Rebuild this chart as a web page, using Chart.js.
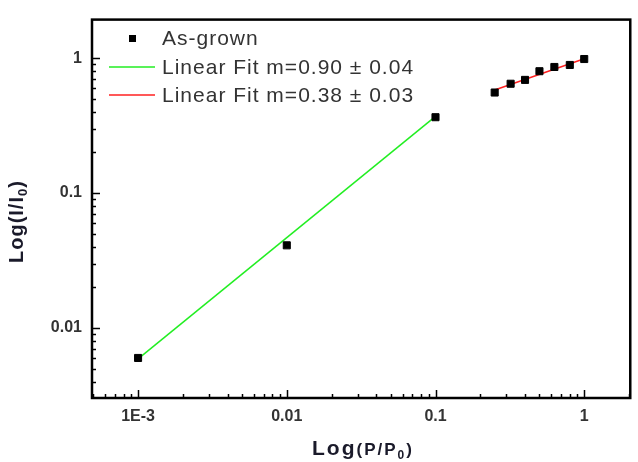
<!DOCTYPE html>
<html>
<head>
<meta charset="utf-8">
<script src="https://cdn.jsdelivr.net/npm/chart.js@4.4.1/dist/chart.umd.min.js"></script>
<style>
  html, body { margin: 0; padding: 0; background: #fff; }
  #wrap { width: 638px; height: 462px; position: relative; }
</style>
</head>
<body>
<div id="wrap"><canvas id="myChart" width="638" height="462"></canvas></div>
<script>
// Data
const pressure = [0.001, 0.01, 0.1, 0.25, 0.32, 0.4, 0.5, 0.63, 0.8, 1.0];
const intensity = [0.0060, 0.041, 0.365, 0.556, 0.646, 0.69, 0.80, 0.86, 0.89, 0.985];

const greenFitX = [0.001, 0.1];
const greenFitY = [0.0059, 0.37];
const redFitX = [0.25, 1.0];
const redFitY = [0.58, 0.99];

const xTickValues = [0.001, 0.01, 0.1, 1];
const xTickLabels = ['1E-3', '0.01', '0.1', '1'];
const yTickValues = [0.01, 0.1, 1];
const yTickLabels = ['0.01', '0.1', '1'];

const seriesLabels = ['As-grown', 'Linear Fit m=0.90 \u00b1 0.04', 'Linear Fit m=0.38 \u00b1 0.03'];

const FONT = "'Liberation Sans', Arial, sans-serif";

function toPoints(xs, ys) {
    return xs.map((x, i) => ({ x: x, y: ys[i] }));
}

// minor + major tick values for a log axis
function logTicks(min, max) {
    const out = [];
    for (let e = Math.floor(Math.log10(min)); e <= Math.ceil(Math.log10(max)); e++) {
        for (let m = 1; m <= 9; m++) {
            const v = m * Math.pow(10, e);
            if (v >= min && v <= max) out.push({ value: v, major: m === 1 });
        }
    }
    return out;
}

function labelFor(values, labels, v) {
    const i = values.findIndex(t => Math.abs(Math.log10(t) - Math.log10(v)) < 1e-6);
    return i >= 0 ? labels[i] : '';
}

// frame, inward ticks, axis titles, legend
const decorPlugin = {
    id: 'decor',
    afterDraw(chart) {
        const ctx = chart.ctx;
        const a = chart.chartArea;
        const xs = chart.scales.x;
        const ys = chart.scales.y;
        ctx.save();

        // ticks
        ctx.strokeStyle = '#000';
        ctx.lineWidth = 1.5;
        xs.ticks.forEach(t => {
            const px = Math.round(xs.getPixelForValue(t.value)) + 0.5;
            const len = t.major ? 8 : 4;
            ctx.beginPath();
            ctx.moveTo(px, a.bottom);
            ctx.lineTo(px, a.bottom - len);
            ctx.stroke();
        });
        ys.ticks.forEach(t => {
            const py = Math.round(ys.getPixelForValue(t.value)) + 0.5;
            const len = t.major ? 8 : 4;
            ctx.beginPath();
            ctx.moveTo(a.left, py);
            ctx.lineTo(a.left + len, py);
            ctx.stroke();
        });

        // frame
        ctx.lineWidth = 2.5;
        ctx.strokeRect(a.left, a.top, a.right - a.left, a.bottom - a.top);

        // axis titles
        ctx.fillStyle = '#1a1a2a';
        ctx.textBaseline = 'alphabetic';
        ctx.textAlign = 'left';
        ctx.letterSpacing = '2px';
        // x title: Log(P/P0)
        let x = 312, y = 455;
        ctx.font = 'bold 21px ' + FONT;
        ctx.fillText('Log', x, y);
        x += ctx.measureText('Log').width;
        ctx.font = 'bold 17px ' + FONT;
        ctx.fillText('(P/P', x, y);
        x += ctx.measureText('(P/P').width;
        ctx.font = 'bold 12px ' + FONT;
        ctx.fillText('0', x, y + 4);
        x += ctx.measureText('0').width;
        ctx.font = 'bold 17px ' + FONT;
        ctx.fillText(')', x, y);

        // y title: Log(I/I0), rotated
        ctx.letterSpacing = '1px';
        ctx.save();
        ctx.translate(23, 263);
        ctx.rotate(-Math.PI / 2);
        let t = 0;
        ctx.font = 'bold 20px ' + FONT;
        ctx.fillText('Log(I/I', t, 0);
        t += ctx.measureText('Log(I/I').width;
        ctx.font = 'bold 13px ' + FONT;
        ctx.fillText('0', t, 4);
        t += ctx.measureText('0').width;
        ctx.font = 'bold 20px ' + FONT;
        ctx.fillText(')', t, 0);
        ctx.restore();

        // legend
        ctx.font = '21px ' + FONT;
        ctx.letterSpacing = '1px';
        ctx.textBaseline = 'middle';
        const ds = chart.data.datasets;
        ctx.fillStyle = '#000';
        ctx.fillRect(129, 35, 7, 7);
        ctx.fillStyle = '#333';
        ctx.fillText(ds[0].label, 162, 39);
        [[1, 67], [2, 95]].forEach(([i, ly]) => {
            ctx.strokeStyle = ds[i].borderColor;
            ctx.lineWidth = 1.5;
            ctx.beginPath();
            ctx.moveTo(109, ly);
            ctx.lineTo(155, ly);
            ctx.stroke();
            ctx.fillText(ds[i].label, 162, ly + 1);
        });

        ctx.restore();
    }
};

const ctx = document.getElementById('myChart').getContext('2d');
const myChart = new Chart(ctx, {
    type: 'scatter',
    data: {
        datasets: [
            {
                label: seriesLabels[0],
                data: toPoints(pressure, intensity),
                pointStyle: 'rect',
                pointRadius: 5,
                backgroundColor: '#000',
                borderColor: '#000',
                borderWidth: 1,
                order: 0
            },
            {
                label: seriesLabels[1],
                data: toPoints(greenFitX, greenFitY),
                showLine: true,
                pointRadius: 0,
                borderColor: '#22ee22',
                borderWidth: 1.5,
                order: 1
            },
            {
                label: seriesLabels[2],
                data: toPoints(redFitX, redFitY),
                showLine: true,
                pointRadius: 0,
                borderColor: '#ff2020',
                borderWidth: 1.5,
                order: 1
            }
        ]
    },
    options: {
        responsive: false,
        animation: false,
        layout: { padding: { left: 0, top: 14, right: 6, bottom: 0 } },
        plugins: {
            legend: { display: false },
            tooltip: { enabled: false }
        },
        scales: {
            x: {
                type: 'logarithmic',
                min: 0.00049,
                max: 2.04,
                afterBuildTicks: s => { s.ticks = logTicks(s.min, s.max); },
                afterFit: s => { s.height = 64; },
                grid: { display: false, drawTicks: false },
                border: { display: false },
                ticks: {
                    autoSkip: false,
                    maxRotation: 0,
                    padding: 9,
                    color: '#333',
                    font: { family: FONT, size: 16, weight: 'bold' },
                    callback: v => labelFor(xTickValues, xTickLabels, v)
                }
            },
            y: {
                type: 'logarithmic',
                min: 0.00303,
                max: 1.93,
                afterBuildTicks: s => { s.ticks = logTicks(s.min, s.max); },
                afterFit: s => { s.width = 92; },
                grid: { display: false, drawTicks: false },
                border: { display: false },
                ticks: {
                    autoSkip: false,
                    padding: 10,
                    color: '#333',
                    font: { family: FONT, size: 16, weight: 'bold' },
                    callback: v => labelFor(yTickValues, yTickLabels, v)
                }
            }
        }
    },
    plugins: [decorPlugin]
});
</script>
</body>
</html>
